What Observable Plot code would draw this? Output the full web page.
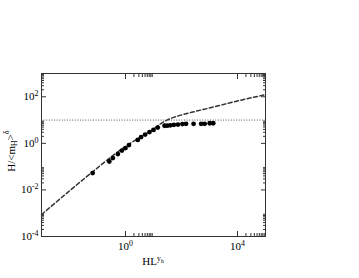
<!DOCTYPE html>
<html><head><meta charset="utf-8">
<script src="https://cdn.jsdelivr.net/npm/d3@7"></script>
<script src="https://cdn.jsdelivr.net/npm/@observablehq/plot@0.6"></script>
<style>body{margin:0;background:#fff} svg{display:block}</style>
</head><body><div id="chart"></div>
<script>
// data points (HL^{y_h}, H/<m_H>^delta)
const hl = [0.067, 0.264, 0.353, 0.535, 0.745, 1.00, 1.33, 2.74, 3.61, 5.02, 7.18, 10.0, 14.2, 24.9, 31.2, 40.0, 53.5, 74.5, 108, 145, 270, 502, 671, 1016, 1358];
const hVal = [0.053, 0.166, 0.234, 0.348, 0.491, 0.628, 0.845, 1.41, 1.86, 2.39, 3.05, 3.79, 4.76, 5.7, 5.75, 5.93, 6.22, 6.41, 6.73, 6.87, 6.87, 6.87, 6.87, 7.29, 7.29];
// dashed scaling curve
const curveHL = [0.001, 0.01, 0.1, 0.316, 1, 1.78, 3.16, 5.62, 10, 17.8, 31.6, 56.2, 100, 316, 1000, 3162, 10000, 31623, 100000];
const curveH = [0.00087, 0.0091, 0.089, 0.269, 0.741, 1.15, 1.70, 2.63, 4.07, 6.9, 10.2, 13.4, 16.6, 23.6, 33.1, 46.8, 66.1, 91.2, 123];
// dotted reference level
const refLevel = [10];
// ticks
const xMajor = [1, 10000];
const xMinor = [2, 3, 4, 5, 6, 7, 8, 9, 20000, 30000, 40000, 50000, 60000, 70000, 80000, 90000];
const yMajor = [1e-4, 1e-2, 1, 100];
const yMinor = [2e-4, 3e-4, 4e-4, 5e-4, 6e-4, 7e-4, 8e-4, 9e-4, 0.02, 0.03, 0.04, 0.05, 0.06, 0.07, 0.08, 0.09, 2, 3, 4, 5, 6, 7, 8, 9, 200, 300, 400, 500, 600, 700, 800, 900];
const xLabels = {"1": "10^0", "10000": "10^4"};
const yLabels = {"0.0001": "10^-4", "0.01": "10^-2", "1": "10^0", "100": "10^2"};

const points = hl.map((x, i) => ({x, y: hVal[i]}));
const curve = curveHL.map((x, i) => ({x, y: curveH[i]}));

const axisColor = "#333";
const blank = () => "";
const chart = Plot.plot({
  width: 359, height: 278,
  marginLeft: 41, marginRight: 94, marginTop: 73, marginBottom: 42,
  style: {fontFamily: "'Liberation Serif', 'Times New Roman', serif", fontSize: "11px", background: "#fff", color: "#000"},
  x: {type: "log", domain: [1e-3, 1e5]},
  y: {type: "log", domain: [1e-4, 1e3]},
  marks: [
    Plot.ruleY(refLevel, {stroke: "#555", strokeDasharray: "1,1.6"}),
    Plot.line(curve, {x: "x", y: "y", stroke: "#333", strokeDasharray: "4,2.5", curve: "monotone-x"}),
    Plot.dot(points, {x: "x", y: "y", r: 2.4, fill: "#000"}),
    // inward ticks, all four sides
    Plot.axisX({anchor: "bottom", ticks: xMajor, tickSize: 5, dy: -5, tickFormat: blank, label: null, stroke: axisColor}),
    Plot.axisX({anchor: "bottom", ticks: xMinor, tickSize: 3, dy: -3, tickFormat: blank, label: null, stroke: axisColor}),
    Plot.axisX({anchor: "top", ticks: xMajor, tickSize: 5, dy: 5, tickFormat: blank, label: null, stroke: axisColor}),
    Plot.axisX({anchor: "top", ticks: xMinor, tickSize: 3, dy: 3, tickFormat: blank, label: null, stroke: axisColor}),
    Plot.axisY({anchor: "left", ticks: yMajor, tickSize: 5, dx: 5, tickFormat: blank, label: null, stroke: axisColor}),
    Plot.axisY({anchor: "left", ticks: yMinor, tickSize: 3, dx: 3, tickFormat: blank, label: null, stroke: axisColor}),
    Plot.axisY({anchor: "right", ticks: yMajor, tickSize: 5, dx: -5, tickFormat: blank, label: null, stroke: axisColor}),
    Plot.axisY({anchor: "right", ticks: yMinor, tickSize: 3, dx: -3, tickFormat: blank, label: null, stroke: axisColor}),
    // tick labels
    Plot.axisX({anchor: "bottom", ticks: xMajor, tickSize: 0, tickPadding: 6, tickFormat: d => xLabels[String(d)], label: null}),
    Plot.axisY({anchor: "left", ticks: yMajor, tickSize: 0, tickPadding: 3, tickFormat: d => yLabels[String(d)], label: null}),
    Plot.frame({stroke: axisColor})
  ]
});
document.getElementById("chart").appendChild(chart);

const svg = d3.select(chart);
svg.selectAll("text").each(function() {
  const t = this.textContent;
  const m = t && t.match(/^10\^(.+)$/);
  if (m) {
    const s = d3.select(this);
    s.text("10");
    s.append("tspan").attr("dy", "-0.5em").attr("font-size", "0.72em").text(m[1]);
  }
});
const xl = svg.append("text").attr("x", 153).attr("y", 265).attr("text-anchor", "middle")
  .attr("font-family", "'Liberation Serif', serif").attr("font-size", 11);
xl.append("tspan").text("HL");
xl.append("tspan").attr("dy", "-0.5em").attr("font-size", "0.7em").text("y");
xl.append("tspan").attr("dy", "0.3em").attr("font-size", "0.5em").text("h");

const yl = svg.append("text").attr("transform", "translate(15,151) rotate(-90)").attr("text-anchor", "middle")
  .attr("font-family", "'Liberation Serif', serif").attr("font-size", 11);
yl.append("tspan").text("H/<m");
yl.append("tspan").attr("dy", "0.3em").attr("font-size", "0.7em").text("H");
yl.append("tspan").attr("dy", "-0.3em").text(">");
yl.append("tspan").attr("dy", "-0.55em").attr("font-size", "0.75em").text("δ");
</script>
</body></html>
